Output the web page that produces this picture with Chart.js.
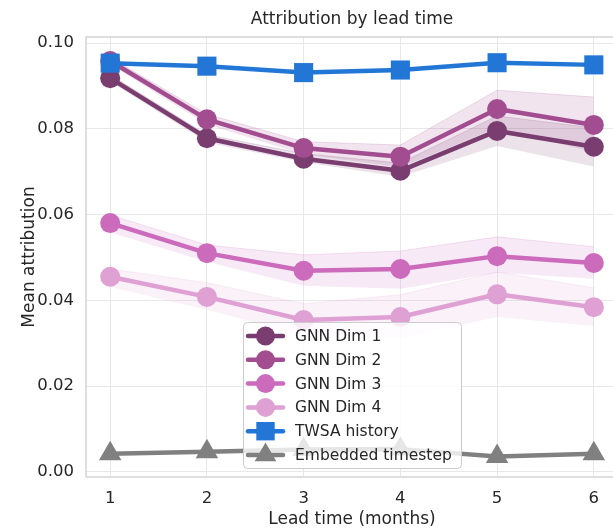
<!DOCTYPE html>
<html><head><meta charset="utf-8">
<script src="https://cdn.jsdelivr.net/npm/chart.js@4.4.1/dist/chart.umd.min.js"></script>
<style>
html,body{margin:0;padding:0;overflow:hidden;background:#fff;width:613px;height:529px}
#wrap{position:relative;width:640px;height:529px}
</style></head>
<body><div id="wrap"><canvas id="c" width="640" height="529" style="width:640px;height:529px"></canvas></div>
<script>
const chartTitle = 'Attribution by lead time';
const xAxisTitle = 'Lead time (months)';
const yAxisTitle = 'Mean attribution';
const leadTimes = [1, 2, 3, 4, 5, 6];
const yTickValues = [0, 0.02, 0.04, 0.06, 0.08, 0.10];
const seriesNames = ['GNN Dim 1', 'GNN Dim 2', 'GNN Dim 3', 'GNN Dim 4', 'TWSA history', 'Embedded timestep'];
const seriesColors = ['#7a3d6f', '#a34d91', '#cc6abb', '#dfa0d4', '#2176d6', '#808080'];
const seriesMarkers = ['circle', 'circle', 'circle', 'circle', 'rect', 'triangle'];

const gnnDim1     = [0.0918, 0.0778, 0.0730, 0.0702, 0.0795, 0.0758];
const gnnDim1Low  = [0.0910, 0.0768, 0.0722, 0.0688, 0.0760, 0.0712];
const gnnDim1High = [0.0926, 0.0786, 0.0742, 0.0720, 0.0830, 0.0802];
const gnnDim2     = [0.0958, 0.0822, 0.0755, 0.0735, 0.0846, 0.0809];
const gnnDim2Low  = [0.0950, 0.0810, 0.0740, 0.0710, 0.0802, 0.0745];
const gnnDim2High = [0.0966, 0.0834, 0.0770, 0.0762, 0.0890, 0.0874];
const gnnDim3     = [0.0580, 0.0510, 0.0469, 0.0473, 0.0503, 0.0487];
const gnnDim3Low  = [0.0559, 0.0490, 0.0434, 0.0427, 0.0464, 0.0450];
const gnnDim3High = [0.0599, 0.0529, 0.0506, 0.0515, 0.0548, 0.0525];
const gnnDim4     = [0.0455, 0.0408, 0.0354, 0.0361, 0.0414, 0.0384];
const gnnDim4Low  = [0.0431, 0.0378, 0.0318, 0.0312, 0.0361, 0.0340];
const gnnDim4High = [0.0473, 0.0441, 0.0392, 0.0413, 0.0466, 0.0429];
const twsaHistory      = [0.0953, 0.0946, 0.0931, 0.0937, 0.0954, 0.0949];
const embeddedTimestep = [0.0042, 0.0047, 0.0052, 0.0053, 0.0036, 0.0042];

const seriesValues = [gnnDim1, gnnDim2, gnnDim3, gnnDim4, twsaHistory, embeddedTimestep];
const bands = [[gnnDim1Low, gnnDim1High], [gnnDim2Low, gnnDim2High], [gnnDim3Low, gnnDim3High], [gnnDim4Low, gnnDim4High]];

const FONT = "'DejaVu Sans', sans-serif";
const TEXT = '#262626';

function pts(arr) { return leadTimes.map((x, i) => ({x: x, y: arr[i]})); }
function rgba(hex, a) {
  const n = parseInt(hex.slice(1), 16);
  return `rgba(${(n>>16)&255},${(n>>8)&255},${n&255},${a})`;
}

const datasets = [];
bands.forEach((b, i) => {
  datasets.push({label: '_band_lo', data: pts(b[0]), borderWidth: 0, pointRadius: 0, pointHoverRadius: 0, fill: false, order: 20 + i, isBand: true});
  datasets.push({label: '_band_hi', data: pts(b[1]), borderWidth: 1, borderColor: rgba(seriesColors[i], 0.18),
    pointRadius: 0, pointHoverRadius: 0, fill: '-1', backgroundColor: rgba(seriesColors[i], 0.15), order: 20 + i, isBand: true});
});
const markerRadius = {circle: 10, rect: 13.5, triangle: 13};
seriesValues.forEach((vals, i) => {
  datasets.push({
    label: seriesNames[i], data: pts(vals), borderColor: seriesColors[i], backgroundColor: seriesColors[i],
    borderWidth: 4.5, pointStyle: seriesMarkers[i], pointRadius: markerRadius[seriesMarkers[i]],
    pointHoverRadius: markerRadius[seriesMarkers[i]], pointBackgroundColor: seriesColors[i],
    pointBorderColor: seriesColors[i], pointBorderWidth: 0, fill: false, tension: 0,
    borderJoinStyle: 'round', borderCapStyle: 'round', order: 10 - i
  });
});

function drawMarker(ctx, style, x, y, r, color) {
  ctx.fillStyle = color;
  ctx.beginPath();
  if (style === 'circle') { ctx.arc(x, y, r, 0, Math.PI * 2); }
  else if (style === 'rect') { const s = Math.SQRT1_2 * r; ctx.rect(x - s, y - s, 2 * s, 2 * s); }
  else if (style === 'triangle') {
    let a = 0;
    ctx.moveTo(x + Math.sin(a) * r, y - Math.cos(a) * r);
    a += 2 * Math.PI / 3; ctx.lineTo(x + Math.sin(a) * r, y - Math.cos(a) * r);
    a += 2 * Math.PI / 3; ctx.lineTo(x + Math.sin(a) * r, y - Math.cos(a) * r);
    ctx.closePath();
  }
  ctx.fill();
}

const decor = {
  id: 'decor',
  beforeDraw(chart) {
    const ctx = chart.ctx;
    ctx.save(); ctx.fillStyle = '#fff'; ctx.fillRect(0, 0, chart.width, chart.height); ctx.restore();
  },
  beforeDatasetsDraw(chart) {
    const ctx = chart.ctx, a = chart.chartArea;
    ctx.save(); ctx.strokeStyle = '#d4d4d4'; ctx.lineWidth = 1.5;
    ctx.strokeRect(a.left, a.top, a.right - a.left, a.bottom - a.top);
    ctx.restore();
  },
  afterDraw(chart) {
    const ctx = chart.ctx, a = chart.chartArea;
    ctx.save();
    ctx.fillStyle = TEXT; ctx.font = `17px ${FONT}`; ctx.textAlign = 'center'; ctx.textBaseline = 'middle';
    ctx.fillText(chartTitle, (a.left + a.right) / 2, 20);
    const bx = a.left + 157, bw = 218, bh = 146, by = a.bottom - 9 - bh;
    ctx.fillStyle = 'rgba(255,255,255,0.8)'; ctx.strokeStyle = '#cccccc'; ctx.lineWidth = 1;
    ctx.beginPath();
    if (ctx.roundRect) ctx.roundRect(bx + 0.5, by + 0.5, bw, bh, 4); else ctx.rect(bx + 0.5, by + 0.5, bw, bh);
    ctx.fill(); ctx.stroke();
    ctx.font = `15.5px ${FONT}`; ctx.textAlign = 'left'; ctx.textBaseline = 'middle';
    seriesNames.forEach((name, i) => {
      const cy = by + 14 + i * 23.8;
      ctx.strokeStyle = seriesColors[i]; ctx.lineWidth = 4.5; ctx.lineCap = 'round';
      ctx.beginPath(); ctx.moveTo(bx + 5, cy); ctx.lineTo(bx + 40, cy); ctx.stroke();
      const st = seriesMarkers[i];
      drawMarker(ctx, st, bx + 22.5, cy, st === 'circle' ? 9.5 : (st === 'rect' ? 13 : 12.5), seriesColors[i]);
      ctx.fillStyle = TEXT; ctx.fillText(name, bx + 52, cy + 1);
    });
    ctx.restore();
  }
};

new Chart(document.getElementById('c'), {
  type: 'line',
  data: {datasets: datasets},
  plugins: [decor],
  options: {
    responsive: false, animation: false, devicePixelRatio: 1,
    layout: {padding: {top: 37, right: 22, left: 0, bottom: 0}},
    interaction: {mode: 'nearest', intersect: true},
    plugins: {
      legend: {display: false}, title: {display: false}, tooltip: {enabled: false},
      filler: {drawTime: 'beforeDatasetsDraw', propagate: false}
    },
    scales: {
      x: {
        type: 'linear', min: 0.75, max: 6.25,
        afterBuildTicks: s => { s.ticks = leadTimes.map(v => ({value: v})); },
        afterFit: s => { s.height = 52; },
        grid: {color: '#e8e8e8', lineWidth: 1, drawTicks: false},
        border: {display: false},
        ticks: {color: TEXT, font: {family: FONT, size: 16.5}, padding: 12, callback: v => String(v)},
        title: {display: true, text: xAxisTitle, color: TEXT, font: {family: FONT, size: 17, lineHeight: 1.0}, padding: {top: 0, bottom: 1}}
      },
      y: {
        type: 'linear', min: -0.0012, max: 0.1014,
        afterBuildTicks: s => { s.ticks = yTickValues.map(v => ({value: v})); },
        afterFit: s => { s.width = 86; },
        grid: {color: '#e8e8e8', lineWidth: 1, drawTicks: false},
        border: {display: false},
        ticks: {color: TEXT, font: {family: FONT, size: 16.5}, padding: 12, callback: v => v.toFixed(2)},
        title: {display: true, text: yAxisTitle, color: TEXT, font: {family: FONT, size: 17}, padding: {top: 19, bottom: 0}}
      }
    }
  }
});
</script>
</body></html>
